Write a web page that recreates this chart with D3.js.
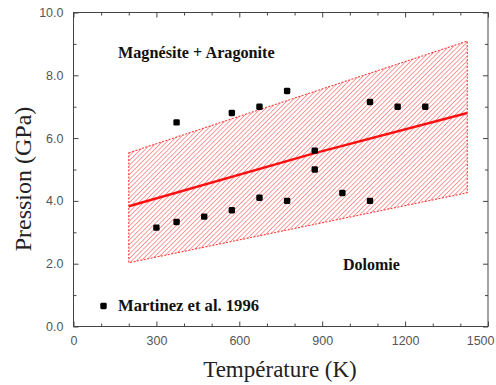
<!DOCTYPE html>
<html>
<head>
<meta charset="utf-8">
<script src="https://cdn.jsdelivr.net/npm/d3@7/dist/d3.min.js"></script>
<style>
  html, body { margin: 0; padding: 0; background: #fff; }
  svg { display: block; }
</style>
</head>
<body>
<svg id="chart" width="496" height="385"></svg>
<script>
// ---- data ----
const tempK    = [300, 373, 373, 473, 573, 573, 673, 673, 773, 773, 873, 873, 973, 1073, 1073, 1173, 1273];
const pressGPa = [3.15, 3.33, 6.5, 3.5, 3.7, 6.8, 4.1, 7.0, 4.0, 7.5, 5.0, 5.6, 4.25, 4.0, 7.15, 7.0, 7.0];

const bandT     = [200, 1425];
const bandUpper = [5.53, 9.09];
const bandLower = [2.03, 4.26];

const fitT = [200, 873, 1425];
const fitP = [3.83, 5.52, 6.8];

const xTickValues = [0, 300, 600, 900, 1200, 1500];
const xTickLabels = ["0", "300", "600", "900", "1200", "1500"];
const xMinorTicks = [100, 200, 400, 500, 700, 800, 1000, 1100, 1300, 1400];
const yTickValues = [0, 2, 4, 6, 8, 10];
const yTickLabels = ["0.0", "2.0", "4.0", "6.0", "8.0", "10.0"];
const yMinorTicks = [1, 3, 5, 7, 9];

const xTitle = "Température (K)";
const yTitle = "Pression (GPa)";
const legendLabel = "Martinez et al. 1996";
const regionTop = "Magnésite + Aragonite";
const regionBottom = "Dolomie";

// ---- layout ----
const svg = d3.select("#chart");
const L = 73.5, R = 488, T = 12.5, B = 326.5;
const x = d3.scaleLinear().domain([0, 1500]).range([L, R]);
const y = d3.scaleLinear().domain([0, 10]).range([B, T]);

const serif = "'Liberation Serif', 'Times New Roman', serif";
const sans = "'Liberation Sans', Arial, sans-serif";

// hatch pattern
const defs = svg.append("defs");
const pat = defs.append("pattern")
  .attr("id", "hatch")
  .attr("patternUnits", "userSpaceOnUse")
  .attr("width", 3.3).attr("height", 3.3)
  .attr("patternTransform", "rotate(45)");
pat.append("line")
  .attr("x1", 0).attr("y1", 0).attr("x2", 0).attr("y2", 3.3)
  .attr("stroke", "#ff5050").attr("stroke-width", 1.3).attr("stroke-opacity", 0.85);

// band polygon
const bandPts = [];
bandT.forEach((t, i) => bandPts.push([x(t), y(bandUpper[i])]));
for (let i = bandT.length - 1; i >= 0; i--) bandPts.push([x(bandT[i]), y(bandLower[i])]);
svg.append("path")
  .attr("d", d3.line()(bandPts) + "Z")
  .attr("fill", "url(#hatch)")
  .attr("stroke", "#ff3a3a")
  .attr("stroke-width", 1.1)
  .attr("stroke-dasharray", "2,1.5");

// fit line
svg.append("path")
  .datum(fitT.map((t, i) => [t, fitP[i]]))
  .attr("d", d3.line().x(d => x(d[0])).y(d => y(d[1])))
  .attr("fill", "none")
  .attr("stroke", "#ff1010")
  .attr("stroke-width", 2.4);

// data points
svg.append("g").selectAll("rect")
  .data(tempK.map((t, i) => [t, pressGPa[i]]))
  .join("rect")
  .attr("x", d => x(d[0]) - 3.2)
  .attr("y", d => y(d[1]) - 3.2)
  .attr("width", 6.4).attr("height", 6.4)
  .attr("rx", 1.4)
  .attr("fill", "#000");

// axes (ticks inward on all sides)
const axColor = "#444";
svg.append("g").attr("transform", `translate(0,${B})`)
  .call(d3.axisBottom(x).tickValues(xTickValues).tickSize(-5).tickFormat((d, i) => xTickLabels[i]).tickPadding(10));
svg.append("g").attr("transform", `translate(0,${B})`)
  .call(d3.axisBottom(x).tickValues(xMinorTicks).tickSize(-3).tickFormat(""));
svg.append("g").attr("transform", `translate(0,${T})`)
  .call(d3.axisTop(x).tickValues(xTickValues).tickSize(-5).tickFormat(""));
svg.append("g").attr("transform", `translate(0,${T})`)
  .call(d3.axisTop(x).tickValues(xMinorTicks).tickSize(-3).tickFormat(""));
svg.append("g").attr("transform", `translate(${L},0)`)
  .call(d3.axisLeft(y).tickValues(yTickValues).tickSize(-5).tickFormat((d, i) => yTickLabels[i]).tickPadding(10));
svg.append("g").attr("transform", `translate(${L},0)`)
  .call(d3.axisLeft(y).tickValues(yMinorTicks).tickSize(-3).tickFormat(""));
svg.append("g").attr("transform", `translate(${R},0)`)
  .call(d3.axisRight(y).tickValues(yTickValues).tickSize(-5).tickFormat(""));
svg.append("g").attr("transform", `translate(${R},0)`)
  .call(d3.axisRight(y).tickValues(yMinorTicks).tickSize(-3).tickFormat(""));

svg.selectAll(".domain").remove();
svg.selectAll(".tick line").attr("stroke", axColor).attr("stroke-width", 1);
svg.selectAll(".tick text")
  .attr("font-family", sans).attr("font-size", 12.5).attr("fill", "#555");
// keep the last x label inside the picture
svg.selectAll(".tick text").filter(function() { return this.textContent === "1500"; })
  .attr("text-anchor", "end").attr("x", 6);

// frame
svg.append("rect")
  .attr("x", L).attr("y", T).attr("width", R - L).attr("height", B - T)
  .attr("fill", "none").attr("stroke", axColor).attr("stroke-width", 1);

// titles
svg.append("text")
  .attr("x", 280).attr("y", 377)
  .attr("text-anchor", "middle")
  .attr("font-family", serif).attr("font-size", 23).attr("fill", "#222")
  .text(xTitle);
svg.append("text")
  .attr("transform", "translate(31,179) rotate(-90)")
  .attr("text-anchor", "middle")
  .attr("font-family", serif).attr("font-size", 24).attr("fill", "#222")
  .text(yTitle);

// annotations
svg.append("text")
  .attr("x", 118).attr("y", 58)
  .attr("font-family", serif).attr("font-size", 16.2).attr("font-weight", "bold").attr("fill", "#111")
  .text(regionTop);
svg.append("text")
  .attr("x", 343).attr("y", 270)
  .attr("font-family", serif).attr("font-size", 16).attr("font-weight", "bold").attr("fill", "#111")
  .text(regionBottom);

// legend
svg.append("rect")
  .attr("x", 100.3).attr("y", 302.8).attr("width", 6.4).attr("height", 6.4).attr("rx", 1.4).attr("fill", "#000");
svg.append("text")
  .attr("x", 118).attr("y", 311)
  .attr("font-family", serif).attr("font-size", 16.6).attr("font-weight", "bold").attr("fill", "#111")
  .text(legendLabel);
</script>
</body>
</html>
